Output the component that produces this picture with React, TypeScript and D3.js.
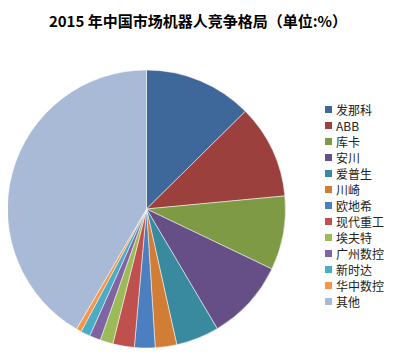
import React, { useRef, useEffect } from "react";
import * as d3 from "d3";

const names = ["发那科", "ABB", "库卡", "安川", "爱普生", "川崎", "欧地希", "现代重工", "埃夫特", "广州数控", "新时达", "华中数控", "其他"];
const shares = [12.6, 10.9, 8.6, 9.4, 5.0, 2.5, 2.4, 2.5, 1.5, 1.3, 1.1, 0.6, 41.6];
const colors = ["#3F689A", "#9C403D", "#7E9A45", "#664F87", "#3A8A9F", "#D17D35", "#4B7FC0", "#C0504D", "#9BBB59", "#8064A2", "#4BACC6", "#F79646", "#A9BAD7"];

const App = () => {
  const svgRef = useRef<SVGSVGElement>(null);

  useEffect(() => {
    const width = 398;
    const height = 355;
    const radius = 139;
    const data = names.map((n, i) => ({ name: n, value: shares[i] }));

    const svg = d3.select(svgRef.current);
    svg.selectAll("*").remove();
    svg.attr("width", width).attr("height", height);

    // title
    svg
      .append("text")
      .attr("x", 198)
      .attr("y", 27)
      .attr("text-anchor", "middle")
      .style("font-family", "'Noto Sans CJK SC', sans-serif")
      .style("font-size", "15px")
      .style("font-weight", "bold")
      .text("2015 年中国市场机器人竞争格局（单位:%）");

    const color = d3.scaleOrdinal<string>().domain(names).range(colors);

    const pie = d3.pie<{ name: string; value: number }>().sort(null).value((d) => d.value);
    const arc = d3.arc<d3.PieArcDatum<{ name: string; value: number }>>().innerRadius(0).outerRadius(radius);

    const g = svg.append("g").attr("transform", "translate(146.5, 209)");
    g.selectAll("path")
      .data(pie(data))
      .enter()
      .append("path")
      .attr("d", arc)
      .attr("fill", (d) => color(d.data.name))
      .attr("stroke", "white")
      .style("stroke-width", "0.5px");

    // legend
    const legend = svg.append("g").attr("transform", "translate(325, 110)");
    const item = legend
      .selectAll("g")
      .data(names)
      .enter()
      .append("g")
      .attr("transform", (d, i) => `translate(0, ${i * 16})`);

    item
      .append("rect")
      .attr("x", 0)
      .attr("y", -4)
      .attr("width", 7)
      .attr("height", 7)
      .attr("fill", (d) => color(d));

    item
      .append("text")
      .attr("x", 11)
      .attr("y", 4.5)
      .style("font-family", "'Noto Sans CJK SC', sans-serif")
      .style("font-size", "12px")
      .attr("fill", "#222")
      .text((d) => d);
  }, []);

  return (
    <div style={{ margin: "-8px" }}>
      <svg ref={svgRef}></svg>
    </div>
  );
};

export default App;
